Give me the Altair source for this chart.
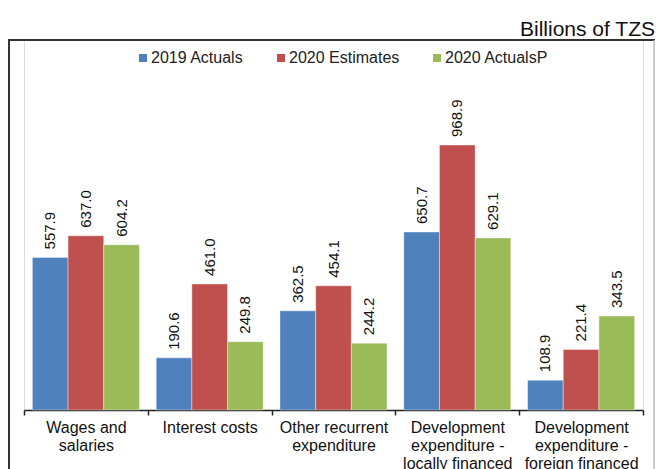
import altair as alt
import pandas as pd

categories = [
    "Wages and salaries",
    "Interest costs",
    "Other recurrent expenditure",
    "Development expenditure - locally financed",
    "Development expenditure - foreign financed",
]
label_lines = [
    ["Wages and", "salaries"],
    ["Interest costs"],
    ["Other recurrent", "expenditure"],
    ["Development", "expenditure -", "locally financed"],
    ["Development", "expenditure -", "foreign financed"],
]
series = ["2019 Actuals", "2020 Estimates", "2020 ActualsP"]
actuals_2019 = [557.9, 190.6, 362.5, 650.7, 108.9]
estimates_2020 = [637.0, 461.0, 454.1, 968.9, 221.4]
actuals_2020p = [604.2, 249.8, 244.2, 629.1, 343.5]
colors = ["#4F81BD", "#C0504D", "#9BBB59"]
unit_label = "Billions of TZS"

rows = []
for s, vals in zip(series, [actuals_2019, estimates_2020, actuals_2020p]):
    for c, v in zip(categories, vals):
        rows.append({"category": c, "series": s, "value": v})
df = pd.DataFrame(rows)

# label expression for wrapped axis labels
expr = "datum.value"
for c, lines in reversed(list(zip(categories, label_lines))):
    arr = "[" + ",".join("'" + l + "'" for l in lines) + "]"
    expr = f"datum.value === '{c}' ? {arr} : ({expr})"

FONT = "Liberation Sans"
W, H = 619, 371

x_enc = alt.X(
    "category:N",
    sort=categories,
    scale=alt.Scale(paddingInner=0, paddingOuter=0),
    axis=alt.Axis(
        title=None,
        labelExpr=expr,
        labelAngle=0,
        labelFont=FONT,
        labelFontSize=16,
        labelColor="#111",
        labelLineHeight=18,
        labelPadding=4,
        tickBand="extent",
        tickSize=5,
        tickColor="#222",
        tickWidth=1.5,
        domainColor="#222",
        domainWidth=1.5,
        labelBaseline="top",
    ),
)
y_enc = alt.Y(
    "value:Q",
    scale=alt.Scale(domain=[0, 1356.5], nice=False, zero=True),
    axis=None,
)
xoff = alt.XOffset("series:N", sort=series,
                   scale=alt.Scale(paddingInner=0, paddingOuter=0.235))

bars = alt.Chart(df).mark_bar(stroke="white", strokeWidth=0.4).encode(
    x=x_enc,
    xOffset=xoff,
    y=y_enc,
    color=alt.Color(
        "series:N",
        sort=series,
        scale=alt.Scale(domain=series, range=colors),
        legend=alt.Legend(
            title=None,
            orient="none",
            direction="horizontal",
            legendX=111,
            legendY=11,
            padding=0,
            symbolType="square",
            symbolSize=64,
            symbolStrokeWidth=0,
            labelFont=FONT,
            labelFontSize=16,
            labelColor="#222",
            labelOffset=0,
            columnPadding=29,
        ),
    ),
)

labels = alt.Chart(df).mark_text(
    angle=270, align="left", baseline="middle", dx=8,
    font=FONT, fontSize=15, color="#111",
).encode(
    x=alt.X("category:N", sort=categories),
    xOffset=xoff,
    y=y_enc,
    text=alt.Text("value:Q", format=".1f"),
)

one = alt.Data(values=[{"k": 0}])
frame_left = alt.Chart(one).mark_rule(color="#333", strokeWidth=2).encode(
    x=alt.value(-15), y=alt.value(0), y2=alt.value(440)
)
frame_top = alt.Chart(one).mark_rule(color="#333", strokeWidth=2).encode(
    x=alt.value(-16), x2=alt.value(631), y=alt.value(1)
)
frame_right = alt.Chart(one).mark_rule(color="#bbb", strokeWidth=1.5).encode(
    x=alt.value(630), y=alt.value(1), y2=alt.value(440)
)
unit = alt.Chart(one).mark_text(
    align="right", baseline="alphabetic", font=FONT, fontSize=21, color="#111"
).encode(x=alt.value(631), y=alt.value(-3), text=alt.value(unit_label))

chart = alt.layer(bars, labels, frame_left, frame_top, frame_right, unit).properties(
    width=W, height=H,
    autosize=alt.AutoSizeParams(type="none"),
    padding={"left": 24, "top": 39, "right": 14, "bottom": 59},
).configure_view(stroke=None).configure(background="white")

chart.save("out.html", embed_options={"renderer": "svg", "actions": False})
